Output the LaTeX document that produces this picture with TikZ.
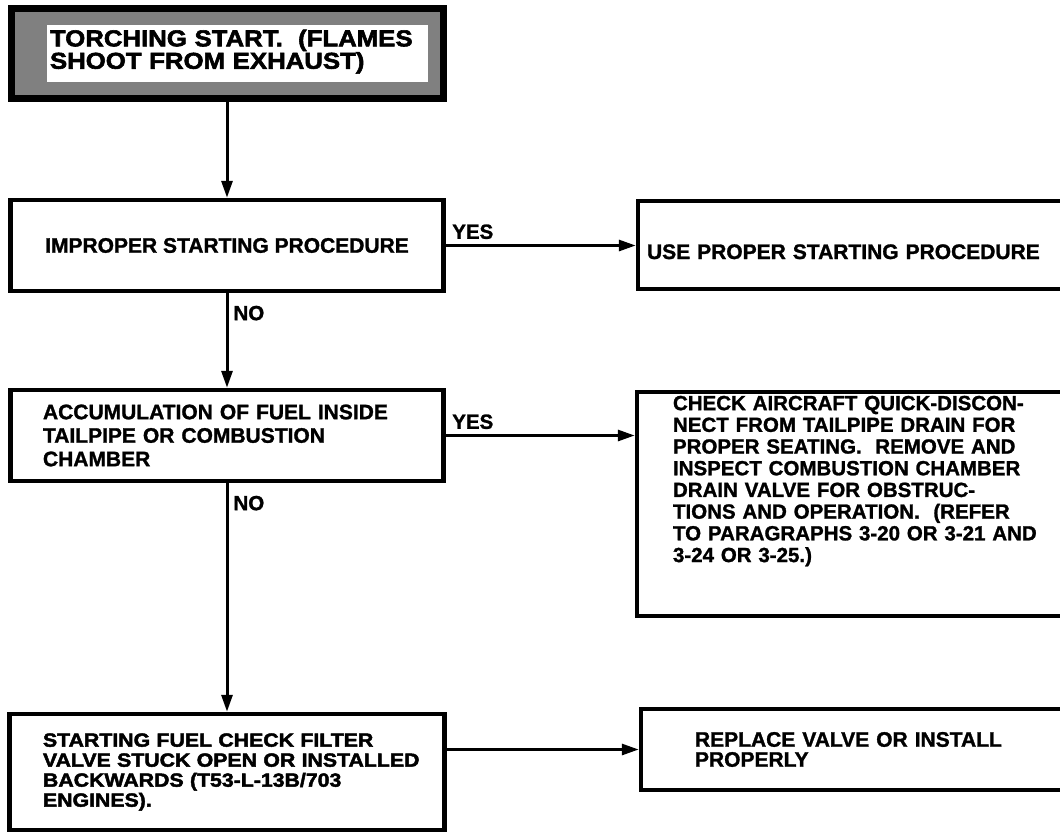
\documentclass[tikz,border=0pt]{standalone}
\usepackage{fontspec}
\setmainfont[BoldFeatures={FakeBold=1.3}]{Liberation Sans}
\newfontfamily\widefont[FakeStretch=1.12, BoldFeatures={FakeBold=2.4}]{Liberation Sans}
\usetikzlibrary{arrows.meta}

\begin{document}
\begin{tikzpicture}[x=1pt, y=-1pt,
        box/.style={draw, line width=4.5pt, inner sep=0pt, align=left,
            font=\fontsize{21}{23.5}\selectfont\bfseries},
        flow/.style={line width=3pt, -{Triangle[length=17pt, width=11pt]}},
        tag/.style={font=\fontsize{20.5}{21}\selectfont\bfseries, inner sep=5pt}]
        \useasboundingbox (0,0) rectangle (1060,835);
        \clip (0,0) rectangle (1060,835);

        % title block
        \node [draw, line width=7pt, fill=black!50, minimum width=432pt, minimum height=90pt] (torch) at (227, 53.5) {};
        \node [fill=white, inner sep=0pt, minimum width=381pt, minimum height=57pt, text width=375pt, align=left,
            text depth=31pt, font=\widefont\fontsize{23}{20.5}\selectfont\bfseries] (torchtext) at (237.5, 53.5)
            {TORCHING START.\ \ (FLAMES\\SHOOT FROM EXHAUST)};

        % left column
        \node [box, minimum width=433pt, minimum height=91pt, align=center] (improper) at (227, 245.5)
            {IMPROPER STARTING PROCEDURE};
        \node [box, minimum width=433pt, minimum height=91pt, text width=368pt] (accum) at (227, 435.5)
            {ACCUMULATION OF FUEL INSIDE\\TAILPIPE OR COMBUSTION\\CHAMBER};
        \node [box, minimum width=435pt, minimum height=116pt, text width=368pt,
            font=\widefont\fontsize{19}{20}\selectfont\bfseries] (valve) at (227, 772)
            {STARTING FUEL CHECK FILTER\\\mbox{VALVE STUCK OPEN OR INSTALLED}\\BACKWARDS (T53-L-13B/703\\ENGINES).};

        % right column
        \node [box, minimum width=440pt, minimum height=88pt, text width=422pt, text height=28pt, text depth=0pt] (proper) at (858, 245)
            {USE PROPER STARTING PROCEDURE};
        \node [box, minimum width=440pt, minimum height=224pt, text width=368pt, text depth=202pt,
            font=\fontsize{20.5}{21.7}\selectfont\bfseries] (check) at (857, 504)
            {CHECK AIRCRAFT QUICK-DISCON-\\NECT FROM TAILPIPE DRAIN FOR\\PROPER SEATING.\ \ REMOVE AND\\INSPECT COMBUSTION CHAMBER\\DRAIN VALVE FOR OBSTRUC-\\TIONS AND OPERATION.\ \ (REFER\\TO PARAGRAPHS 3-20 OR 3-21 AND\\3-24 OR 3-25.)};
        \node [box, minimum width=440pt, minimum height=81pt, text width=332pt,
            font=\fontsize{21}{20}\selectfont\bfseries] (replace) at (861, 749.5)
            {REPLACE VALVE OR INSTALL\\PROPERLY};

        \draw [flow] (torch) -- (improper);
        \draw [flow] (improper) -- node [tag, pos=0.21, anchor=west] {NO} (accum);
        \draw [flow] (accum) -- node [tag, pos=0.087, anchor=west] {NO} (valve);
        \draw [flow] (improper.east) -- node [tag, pos=0, anchor=south west] {YES} (improper.east -| proper.west);
        \draw [flow] (accum.east) -- node [tag, pos=0, anchor=south west] {YES} (accum.east -| check.west);
        \draw [flow] (valve.east |- replace.west) -- (replace.west);
      \end{tikzpicture}
\end{document}
